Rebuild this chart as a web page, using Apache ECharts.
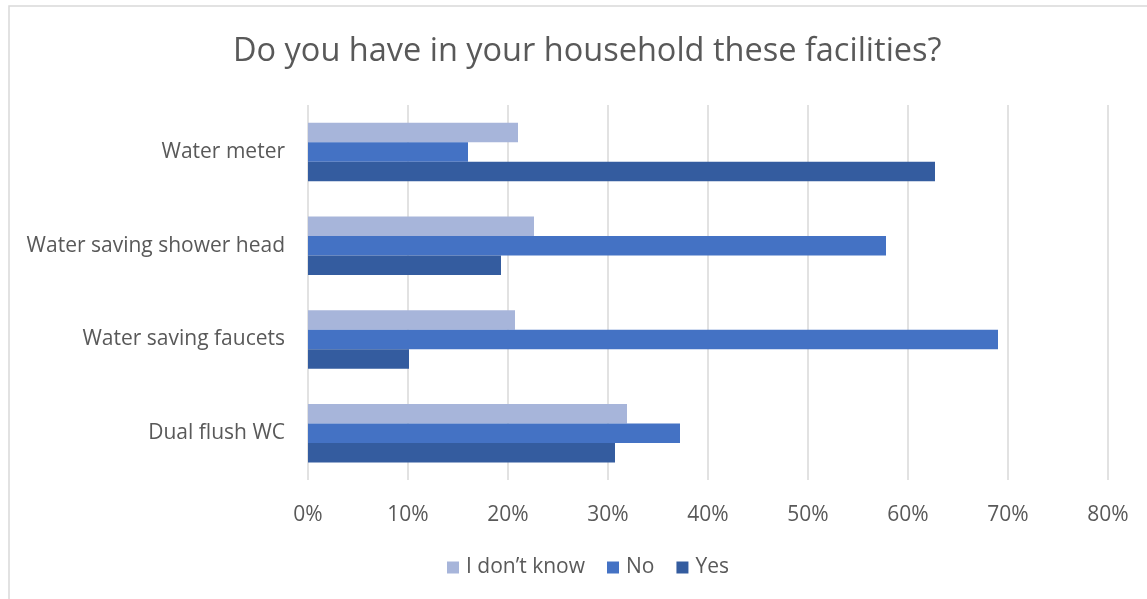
<!DOCTYPE html>
<html>
<head>
<meta charset="utf-8">
<script src="https://cdn.jsdelivr.net/npm/echarts@6/dist/echarts.min.js"></script>
<style>
  html, body { margin: 0; padding: 0; background: #fff; }
  #chart { width: 1147px; height: 599px; }
</style>
</head>
<body>
<div id="chart"></div>
<script>
// Household facilities survey: share of answers per facility (%)
const categories = ['Dual flush WC', 'Water saving faucets', 'Water saving shower head', 'Water meter'];
const yesValues = [30.7, 10.1, 19.3, 62.7];
const noValues = [37.2, 69.0, 57.8, 16.0];
const dontKnowValues = [31.9, 20.7, 22.6, 21.0];
const seriesNames = ['I don\u2019t know', 'No', 'Yes'];

const font = 'Open Sans, Noto Sans, sans-serif';
const textColor = '#595959';

const chart = echarts.init(document.getElementById('chart'));

function barSeries(name, data, color) {
  return {
    name: name,
    type: 'bar',
    data: data,
    barWidth: 19.5,
    barGap: '0%',
    itemStyle: { color: color },
    emphasis: { disabled: true }
  };
}

chart.setOption({
  animation: false,
  title: {
    text: 'Do you have in your household these facilities?',
    left: 228,
    top: 30,
    textStyle: { fontFamily: font, fontSize: 32.5, fontWeight: 'normal', color: textColor }
  },
  graphic: [{
    type: 'rect',
    shape: { x: 9, y: 6, width: 1160, height: 620 },
    style: { fill: 'none', stroke: '#D9D9D9', lineWidth: 1.5 },
    silent: true
  }],
  legend: {
    data: seriesNames,
    top: 552,
    left: 442,
    itemWidth: 12,
    itemHeight: 12,
    itemGap: 22,
    icon: 'rect',
    textStyle: { fontFamily: font, fontSize: 21, color: textColor, padding: [0, 0, 0, 2] }
  },
  grid: { left: 308, right: 39, top: 105, bottom: 119, containLabel: false },
  xAxis: {
    type: 'value',
    min: 0,
    max: 80,
    interval: 10,
    axisLine: { show: false },
    axisTick: { show: false },
    axisLabel: {
      formatter: '{value}%',
      fontFamily: font,
      fontSize: 21,
      color: textColor,
      margin: 25
    },
    splitLine: { lineStyle: { color: '#D9D9D9', width: 1.5 } }
  },
  yAxis: {
    type: 'category',
    data: categories,
    axisLine: { show: false },
    axisTick: { show: false },
    axisLabel: { fontFamily: font, fontSize: 21, color: textColor, margin: 23 }
  },
  series: [
    barSeries(seriesNames[0], dontKnowValues, '#A7B5DA'),
    barSeries(seriesNames[1], noValues, '#4472C4'),
    barSeries(seriesNames[2], yesValues, '#345C9F')
  ]
});
</script>
</body>
</html>
